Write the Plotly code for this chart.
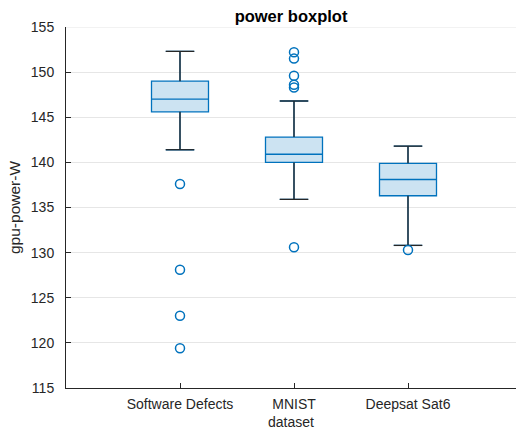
import plotly.graph_objects as go

# Box statistics per dataset (gpu power, W)
datasets = ["Software Defects", "MNIST", "Deepsat Sat6"]
positions = [1, 2, 3]
q1 = [145.6, 140.0, 136.3]
median = [147.0, 140.9, 138.1]
q3 = [149.0, 142.8, 139.9]
lower_whisker = [141.4, 135.9, 130.8]
upper_whisker = [152.3, 146.8, 141.8]
outliers = [
    [137.6, 128.1, 123.0, 119.4],
    [152.2, 151.5, 149.6, 148.6, 148.3, 130.6],
    [130.3],
]

BLUE = "#0072BD"
FILL = "rgba(0,114,189,0.2)"
WHISKER = "#262626"
AXIS = "#262626"
BOX_W = 0.5
CAP_W = 0.25
Y_RANGE = [115, 155]

fig = go.Figure()

for i, x in enumerate(positions):
    fig.add_trace(go.Box(
        x=[x], q1=[q1[i]], median=[median[i]], q3=[q3[i]],
        lowerfence=[lower_whisker[i]], upperfence=[upper_whisker[i]],
        width=BOX_W, whiskerwidth=CAP_W / BOX_W,
        fillcolor=FILL, line=dict(color=BLUE, width=1.3),
        boxpoints=False, showlegend=False, hoverinfo="skip",
    ))

# Whiskers and caps in dark grey
wx, wy = [], []
for i, x in enumerate(positions):
    wx += [x, x, None, x, x, None]
    wy += [q3[i], upper_whisker[i], None, q1[i], lower_whisker[i], None]
    for v in (upper_whisker[i], lower_whisker[i]):
        wx += [x - CAP_W / 2, x + CAP_W / 2, None]
        wy += [v, v, None]
fig.add_trace(go.Scatter(x=wx, y=wy, mode="lines",
                         line=dict(color=WHISKER, width=1.3),
                         showlegend=False, hoverinfo="skip"))

# Outliers as open circles
ox, oy = [], []
for i, x in enumerate(positions):
    ox += [x] * len(outliers[i])
    oy += outliers[i]
fig.add_trace(go.Scatter(x=ox, y=oy, mode="markers",
                         marker=dict(symbol="circle-open", size=9,
                                     color=BLUE, line=dict(width=1.5)),
                         showlegend=False, hoverinfo="skip"))

# Grid line along the top edge of the axes
fig.add_shape(type="line", xref="paper", yref="y", x0=0, x1=1,
              y0=Y_RANGE[1], y1=Y_RANGE[1], layer="below",
              line=dict(color="#e6e6e6", width=1))

font = "Liberation Sans, Arial, sans-serif"
fig.update_layout(
    width=516, height=430,
    margin=dict(l=66, r=0, t=27, b=42),
    paper_bgcolor="white", plot_bgcolor="white",
    font=dict(family=font, size=14, color=AXIS),
    title=dict(text="<b>power boxplot</b>", xref="paper", x=0.5,
               xanchor="center", y=1 - 16 / 430, yanchor="middle",
               font=dict(size=16.5, color="#000000")),
    xaxis=dict(
        range=[0, 450 / 114], tickmode="array", tickvals=positions,
        ticktext=datasets, ticks="inside", ticklen=5, tickcolor=AXIS,
        showline=True, linecolor=AXIS, linewidth=1,
        showgrid=False, zeroline=False, ticklabelstandoff=3,
        title=dict(text="dataset", standoff=6, font=dict(size=14)),
    ),
    yaxis=dict(
        range=Y_RANGE, tickmode="linear", tick0=115, dtick=5,
        ticks="inside", ticklen=5, tickcolor=AXIS,
        showline=True, linecolor=AXIS, linewidth=1,
        showgrid=True, gridcolor="#e6e6e6", gridwidth=1, zeroline=False,
        ticklabelstandoff=8,
        title=dict(text="gpu-power-W", standoff=6, font=dict(size=15.5)),
    ),
)

fig.write_html("out.html")
